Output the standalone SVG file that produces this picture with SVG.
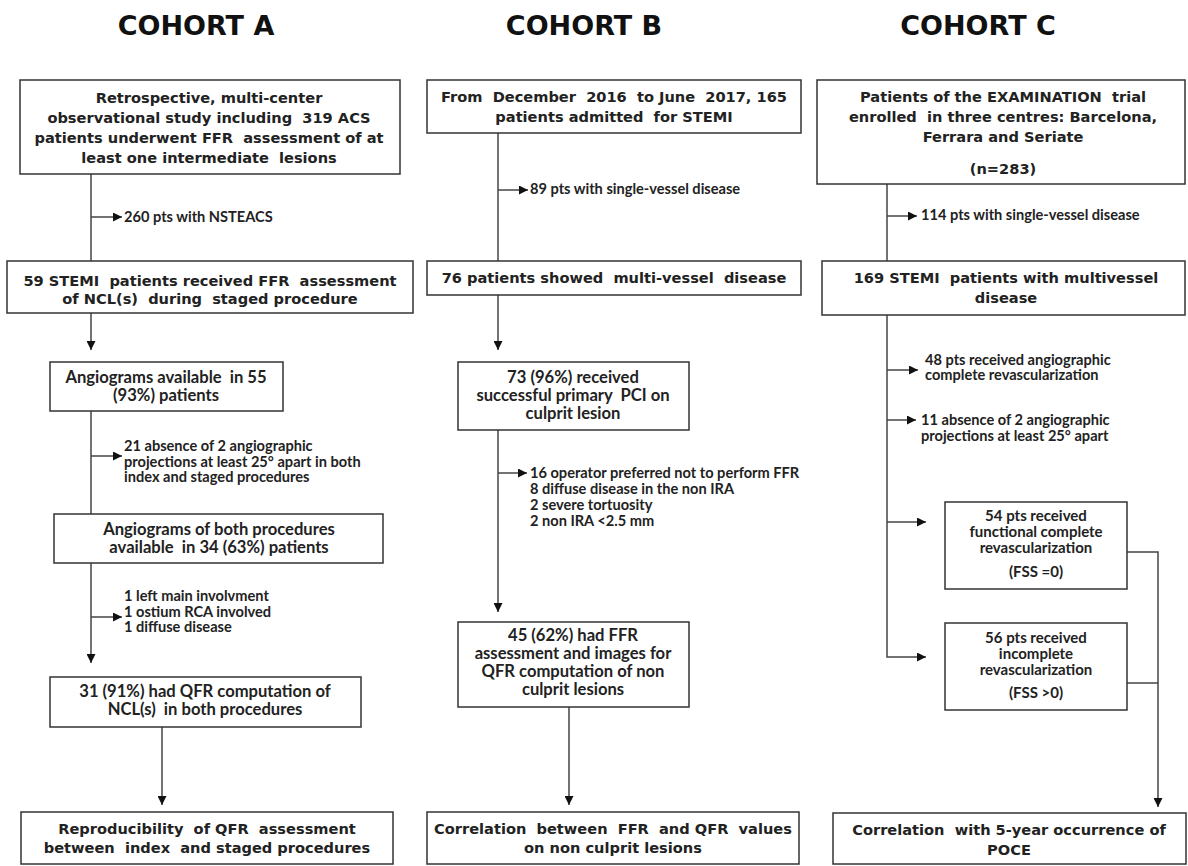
<svg xmlns="http://www.w3.org/2000/svg" width="1188" height="866" viewBox="0 0 1188 866">
<style>
.box{fill:#fff;stroke:#333;stroke-width:1.5}
.v{font-family:"DejaVu Sans",Verdana,sans-serif;font-weight:bold;font-size:14.6px;fill:#222;text-anchor:middle}
.c{font-family:Lato,"Liberation Sans",sans-serif;font-weight:bold;font-size:16.6px;fill:#222;text-anchor:middle}
.cs{font-family:Lato,"Liberation Sans",sans-serif;font-weight:bold;font-size:15px;fill:#222;text-anchor:middle}
.s{font-family:Lato,"Liberation Sans",sans-serif;font-weight:bold;font-size:14.6px;fill:#222}
.title{font-family:"DejaVu Sans",Verdana,sans-serif;font-weight:bold;font-size:27px;fill:#111;text-anchor:middle}
.ln{fill:none;stroke:#444;stroke-width:1.5}
</style>
<defs>
<marker id="ah" markerUnits="userSpaceOnUse" markerWidth="9" markerHeight="9" refX="9" refY="4.5" orient="auto">
<path d="M0,0 L9,4.5 L0,9 z" fill="#111"/>
</marker>
</defs>
<rect width="1188" height="866" fill="#fff"/>

<g id="titles">
<text class="title" x="196" y="35">COHORT A</text>
<text class="title" x="584" y="35">COHORT B</text>
<text class="title" x="978" y="35">COHORT C</text>
</g>

<g id="connectors">
<line class="ln" x1="91" y1="174" x2="91" y2="261"/>
<line class="ln" x1="91" y1="217" x2="122" y2="217" marker-end="url(#ah)"/>
<line class="ln" x1="91" y1="313" x2="91" y2="350" marker-end="url(#ah)"/>
<line class="ln" x1="91" y1="411" x2="91" y2="514"/>
<line class="ln" x1="91" y1="456" x2="122" y2="456" marker-end="url(#ah)"/>
<line class="ln" x1="91" y1="563" x2="91" y2="663" marker-end="url(#ah)"/>
<line class="ln" x1="91" y1="617" x2="122" y2="617" marker-end="url(#ah)"/>
<line class="ln" x1="162" y1="727" x2="162" y2="805" marker-end="url(#ah)"/>
<line class="ln" x1="498" y1="133" x2="498" y2="261"/>
<line class="ln" x1="498" y1="190" x2="528" y2="190" marker-end="url(#ah)"/>
<line class="ln" x1="498" y1="295" x2="498" y2="350" marker-end="url(#ah)"/>
<line class="ln" x1="498" y1="430" x2="498" y2="612" marker-end="url(#ah)"/>
<line class="ln" x1="498" y1="473" x2="527" y2="473" marker-end="url(#ah)"/>
<line class="ln" x1="569" y1="707" x2="569" y2="805" marker-end="url(#ah)"/>
<line class="ln" x1="887" y1="184" x2="887" y2="261"/>
<line class="ln" x1="887" y1="216" x2="917" y2="216" marker-end="url(#ah)"/>
<polyline class="ln" points="887,315 887,657 926,657" marker-end="url(#ah)"/>
<line class="ln" x1="887" y1="370" x2="918" y2="370" marker-end="url(#ah)"/>
<line class="ln" x1="887" y1="420" x2="916" y2="420" marker-end="url(#ah)"/>
<line class="ln" x1="887" y1="522" x2="926" y2="522" marker-end="url(#ah)"/>
<polyline class="ln" points="1127,552 1158,552 1158,807" marker-end="url(#ah)"/>
<line class="ln" x1="1127" y1="683" x2="1158" y2="683"/>
</g>

<g id="side-labels">
<text class="s" x="124" y="222">260 pts with NSTEACS</text>
<text class="s" y="451"><tspan x="124">21 absence of 2 angiographic</tspan><tspan x="124" dy="15.5">projections at least 25° apart in both</tspan><tspan x="124" dy="15.5">index and staged procedures</tspan></text>
<text class="s" y="601"><tspan x="124">1 left main involvment</tspan><tspan x="124" dy="15.5">1 ostium RCA involved</tspan><tspan x="124" dy="15.5">1 diffuse disease</tspan></text>
<text class="s" x="530" y="194">89 pts with single-vessel disease</text>
<text class="s" y="478"><tspan x="530">16 operator preferred not to perform FFR</tspan><tspan x="530" dy="16">8 diffuse disease in the non IRA</tspan><tspan x="530" dy="16">2 severe tortuosity</tspan><tspan x="530" dy="15.5">2 non IRA &lt;2.5 mm</tspan></text>
<text class="s" x="921" y="220">114 pts with single-vessel disease</text>
<text class="s" y="365"><tspan x="925">48 pts received angiographic</tspan><tspan x="925" dy="15">complete revascularization</tspan></text>
<text class="s" y="425"><tspan x="921">11 absence of 2 angiographic</tspan><tspan x="921" dy="15.5">projections at least 25° apart</tspan></text>
</g>

<g id="A1"><rect class="box" x="20" y="80" width="380" height="94"/>
<text class="v" y="103"><tspan x="209">Retrospective, multi-center</tspan><tspan x="209" dy="20">observational study including &#160;319 ACS</tspan><tspan x="209" dy="20">patients underwent FFR &#160;assessment of at</tspan><tspan x="209" dy="20">least one intermediate &#160;lesions</tspan></text></g>

<g id="A2"><rect class="box" x="7" y="261" width="406" height="52"/>
<text class="v" y="286"><tspan x="210">59 STEMI &#160;patients received FFR &#160;assessment</tspan><tspan x="210" dy="18">of NCL(s) &#160;during &#160;staged procedure</tspan></text></g>

<g id="A3"><rect class="box" x="50" y="362" width="233" height="49"/>
<text class="c" y="382.5"><tspan x="166">Angiograms available &#160;in 55</tspan><tspan x="166" dy="18">(93%) patients</tspan></text></g>

<g id="A4"><rect class="box" x="54" y="514" width="329" height="49"/>
<text class="c" y="535"><tspan x="219">Angiograms of both procedures</tspan><tspan x="219" dy="18">available &#160;in 34 (63%) patients</tspan></text></g>

<g id="A5"><rect class="box" x="50" y="677" width="311" height="50"/>
<text class="c" y="696.5"><tspan x="205">31 (91%) had QFR computation of</tspan><tspan x="205" dy="18">NCL(s) &#160;in both procedures</tspan></text></g>

<g id="A6"><rect class="box" x="21" y="812" width="372" height="52"/>
<text class="v" y="834"><tspan x="207">Reproducibility &#160;of QFR &#160;assessment</tspan><tspan x="207" dy="19">between &#160;index &#160;and staged procedures</tspan></text></g>

<g id="B1"><rect class="box" x="427" y="80" width="374" height="53"/>
<text class="v" y="102"><tspan x="614">From &#160;December &#160;2016 &#160;to June &#160;2017, 165</tspan><tspan x="614" dy="20">patients admitted &#160;for STEMI</tspan></text></g>

<g id="B2"><rect class="box" x="427" y="261" width="374" height="34"/>
<text class="v" x="614" y="283">76 patients showed &#160;multi-vessel &#160;disease</text></g>

<g id="B3"><rect class="box" x="458" y="362" width="231" height="68"/>
<text class="c" y="383"><tspan x="573">73 (96%) received</tspan><tspan x="573" dy="18">successful primary &#160;PCI on</tspan><tspan x="573" dy="18">culprit lesion</tspan></text></g>

<g id="B4"><rect class="box" x="458" y="622" width="231" height="85"/>
<text class="c" y="641"><tspan x="573">45 (62%) had FFR</tspan><tspan x="573" dy="18">assessment and images for</tspan><tspan x="573" dy="18">QFR computation of non</tspan><tspan x="573" dy="18">culprit lesions</tspan></text></g>

<g id="B5"><rect class="box" x="427" y="812" width="372" height="52"/>
<text class="v" y="834"><tspan x="613">Correlation &#160;between &#160;FFR &#160;and QFR &#160;values</tspan><tspan x="613" dy="19">on non culprit lesions</tspan></text></g>

<g id="C1"><rect class="box" x="817" y="80" width="368" height="104"/>
<text class="v" y="102"><tspan x="1003">Patients of the EXAMINATION &#160;trial</tspan><tspan x="1003" dy="20">enrolled &#160;in three centres: Barcelona,</tspan><tspan x="1003" dy="20">Ferrara and Seriate</tspan><tspan x="1003" dy="32">(n=283)</tspan></text></g>

<g id="C2"><rect class="box" x="822" y="261" width="363" height="54"/>
<text class="v" y="283"><tspan x="1006">169 STEMI &#160;patients with multivessel</tspan><tspan x="1006" dy="20">disease</tspan></text></g>

<g id="C3"><rect class="box" x="945" y="502" width="182" height="87"/>
<text class="cs" y="520.5"><tspan x="1036">54 pts received</tspan><tspan x="1036" dy="16">functional complete</tspan><tspan x="1036" dy="16">revascularization</tspan><tspan x="1036" dy="24.5">(FSS =0)</tspan></text></g>

<g id="C4"><rect class="box" x="945" y="623" width="182" height="87"/>
<text class="cs" y="642.5"><tspan x="1036">56 pts received</tspan><tspan x="1036" dy="16">incomplete</tspan><tspan x="1036" dy="16">revascularization</tspan><tspan x="1036" dy="23.5">(FSS &gt;0)</tspan></text></g>

<g id="C5"><rect class="box" x="833" y="813" width="353" height="51"/>
<text class="v" y="835"><tspan x="1009">Correlation &#160;with 5-year occurrence of</tspan><tspan x="1009" dy="20">POCE</tspan></text></g>
</svg>
